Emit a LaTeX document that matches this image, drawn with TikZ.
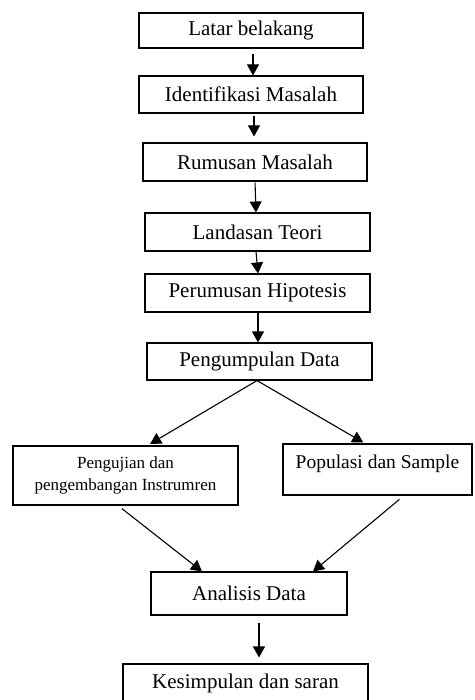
\documentclass[tikz,border=0pt]{standalone}
\usepackage{fontspec}
\setmainfont{Liberation Serif}
\usetikzlibrary{arrows.meta,calc}
\begin{document}
\begin{tikzpicture}[x=1pt,y=-1pt,
  box/.style={draw, line width=1.1pt, fill=white, inner sep=0pt, font=\fontsize{21}{24}\selectfont},
  arr/.style={line width=1.1pt, -{Triangle[length=11pt,width=12pt]}},
  txt/.style={inner sep=0pt, font=\fontsize{21}{24}\selectfont}]
\useasboundingbox[fill=white] (0,0) rectangle (474,700);
\node[box, minimum width=224, minimum height=35] (b1) at (251,30.5) {Latar belakang};
\node[box, minimum width=224, minimum height=37] (b2) at (251,94.5) {Identifikasi Masalah};
\node[box, minimum width=224, minimum height=38] (b3) at (255,162) {Rumusan Masalah};
\node[box, minimum width=225, minimum height=38] (b4) at (257.5,232) {Landasan Teori};
\node[box, minimum width=225, minimum height=38] (b5) at (257.5,293) {Perumusan Hipotesis};
\node[box, minimum width=225, minimum height=37] (b6) at (259.5,361.5) {Pengumpulan Data};
\node[box, minimum width=225, minimum height=59, align=center, font=\fontsize{17}{22}\selectfont] (bl) at (125.5,475.5) {Pengujian dan\\pengembangan Instrumren};
\node[box, minimum width=189, minimum height=51] (br) at (377.5,469.5) {};
\node[txt, font=\fontsize{19.5}{24}\selectfont] (brt) at ([yshift=6]br.center) {Populasi dan Sample};
\node[box, minimum width=196, minimum height=43] (ba) at (249,593.5) {Analisis Data};
\node[box, minimum width=245, minimum height=38] (bk) at (245.5,683) {Kesimpulan dan saran};

\draw[arr, shorten <=5pt] ([xshift=2]b1.south) -- ([xshift=2]b2.north);
\draw[arr, shorten <=2pt, shorten >=6pt] ([xshift=3]b2.south) -- ([xshift=-1]b3.north);
\draw[arr, shorten <=1pt] ([xshift=0]b3.south) -- ([xshift=-1.5]b4.north);
\draw[arr] ([xshift=-1.5]b4.south) -- ([xshift=0.5]b5.north);
\draw[arr] ([xshift=0.5]b5.south) -- ([xshift=-1.5]b6.north);
\draw[arr, shorten >=3pt] ([xshift=-2.5]b6.south) -- ([xshift=22]bl.north);
\draw[arr, shorten >=2pt] ([xshift=-2.5]b6.south) -- ([xshift=-12.5]br.north);
\draw[arr, shorten <=5pt] ([xshift=-7.5]bl.south) -- ([xshift=-47]ba.north);
\draw[arr, shorten <=6pt] ([xshift=26.5]br.south) -- ([xshift=64]ba.north);
\draw[arr, shorten <=7pt, shorten >=6pt] ([xshift=10]ba.south) -- ([xshift=13.5]bk.north);
\end{tikzpicture}
\end{document}
